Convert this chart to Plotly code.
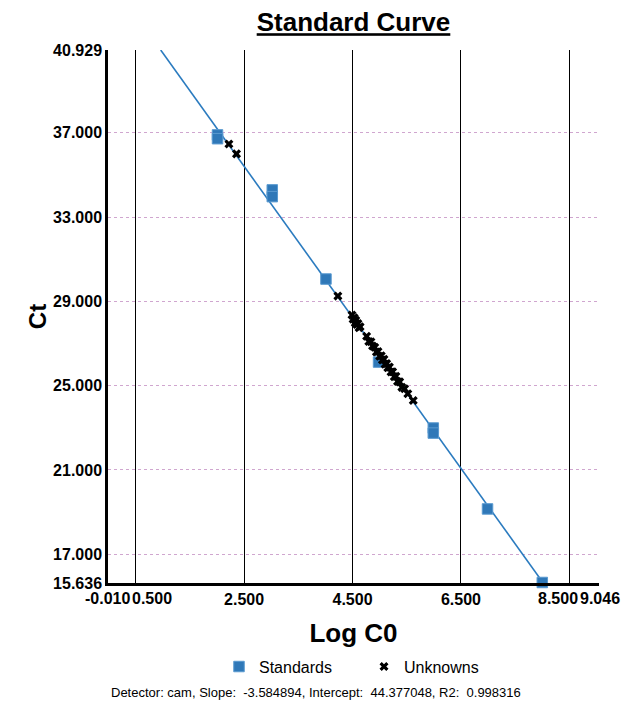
import plotly.graph_objects as go

# ---- data ----
std_logc0 = [2.01, 2.01, 3.02, 3.02, 4.01, 4.98, 5.99, 5.99, 6.99, 8.00]
std_ct = [36.90, 36.72, 34.29, 33.97, 30.06, 26.12, 22.99, 22.75, 19.15, 15.66]

unk_logc0 = [2.22, 2.36, 4.23, 4.49, 4.51, 4.53, 4.55, 4.56, 4.58, 4.60, 4.62, 4.64,
             4.76, 4.80, 4.84, 4.87, 4.91, 4.94, 4.97, 5.00, 5.03, 5.05, 5.08, 5.10,
             5.13, 5.15, 5.18, 5.21, 5.24, 5.27, 5.30, 5.33, 5.37, 5.41, 5.46, 5.52, 5.62]
unk_ct = [36.47, 36.00, 29.25, 28.35, 28.15, 28.22, 27.98, 28.10, 27.90, 27.95, 27.75, 27.80,
          27.35, 27.10, 27.08, 26.88, 26.82, 26.60, 26.62, 26.40, 26.42, 26.22, 26.25, 26.02,
          26.05, 25.85, 25.88, 25.65, 25.66, 25.42, 25.45, 25.20, 25.18, 24.92, 24.85, 24.62, 24.30]

slope = -3.584894
intercept = 44.377048
r2 = 0.998316
detector = "cam"

x_min, x_max = -0.010, 9.046
y_min, y_max = 15.636, 40.929
x_ticks = [-0.010, 0.500, 2.500, 4.500, 6.500, 8.500, 9.046]
y_ticks = [15.636, 17.000, 21.000, 25.000, 29.000, 33.000, 37.000, 40.929]

# crowded pairs of x tick labels are written as annotations at their tick values
crowded = {-0.010: ("right", 0.500, -5), 0.500: ("left", 0.500, -5),
           8.500: ("right", 9.046, -20), 9.046: ("left", 9.046, -20)}
x_ticktext = ["" if v in crowded else f"{v:.3f}" for v in x_ticks]
y_ticktext = [f"{v:.3f}" for v in y_ticks]

# fitted line clipped to the plot range
line_y = [y_max, y_min]
line_x = [(yv - intercept) / slope for yv in line_y]

FONT = "Arial, Liberation Sans, sans-serif"
W, H = 622, 700
L, T, PW, PH = 100, 42, 491, 533
TICKFONT = dict(size=16, family=FONT, color="black", weight="bold")

fig = go.Figure()
fig.add_trace(go.Scatter(x=line_x, y=line_y, mode="lines",
                         line=dict(color="#2b7bbf", width=1.6),
                         showlegend=False, hoverinfo="skip"))
fig.add_trace(go.Scatter(x=std_logc0, y=std_ct, mode="markers", name="Standards",
                         marker=dict(symbol="square", size=10.5, color="#2f78b8",
                                     line=dict(color="#5a9ad0", width=1)),
                         cliponaxis=False))
fig.add_trace(go.Scatter(x=unk_logc0, y=unk_ct, mode="markers", name="Unknowns",
                         marker=dict(symbol="x", size=8, color="black",
                                     line=dict(width=0)),
                         cliponaxis=False))

fig.update_layout(
    width=W, height=H,
    margin=dict(l=L, r=W - L - PW, t=T, b=H - T - PH, autoexpand=False),
    paper_bgcolor="white", plot_bgcolor="white",
    font=dict(family=FONT, color="black"),
    title=dict(text="<b><u>Standard Curve</u></b>", x=0.5, xref="paper", xanchor="center",
               y=1 - 5 / H, yref="container", yanchor="top",
               font=dict(size=26, family=FONT, color="black")),
    showlegend=True,
    legend=dict(orientation="h", x=(219 - 108) / PW, xref="paper", xanchor="left",
                y=-0.125, yanchor="top", font=dict(size=16, family=FONT),
                itemwidth=30, entrywidth=100, tracegroupgap=0,
                bgcolor="rgba(0,0,0,0)"),
)

fig.update_xaxes(
    range=[x_min, x_max], tickvals=x_ticks, ticktext=x_ticktext, tickangle=0,
    showgrid=True, gridcolor="black", gridwidth=1,
    showline=True, linecolor="black", linewidth=2.5, mirror=False,
    zeroline=False, ticks="", ticklabelstandoff=0,
    tickfont=TICKFONT,
    title=dict(text="<b>Log C0</b>", font=dict(size=26, family=FONT), standoff=17),
    automargin=False,
)
fig.update_yaxes(
    range=[y_min, y_max], tickvals=y_ticks, ticktext=y_ticktext,
    showgrid=True, gridcolor="#d0a6cf", gridwidth=1, griddash="dot",
    showline=True, linecolor="black", linewidth=2.5, mirror=False,
    zeroline=False, ticks="", ticklabelstandoff=0,
    tickfont=TICKFONT,
    title=dict(text="<b>Ct</b>", font=dict(size=24, family=FONT), standoff=0),
    automargin=False,
)

for v, (anchor, xpos, shift) in crowded.items():
    fig.add_annotation(text=f"{v:.3f}", x=xpos, xref="x", y=0, yref="paper",
                       xanchor=anchor, yanchor="top", xshift=shift, yshift=-6,
                       showarrow=False, borderpad=0, font=TICKFONT)

fig.add_annotation(
    text=f"Detector: {detector}, Slope:  {slope:.6f}, Intercept:  {intercept:.6f}, R2:  {r2:.6f}",
    xref="paper", yref="paper", x=(316 - 108) / PW, y=-(692 - 583) / PH,
    xanchor="center", yanchor="middle", showarrow=False,
    font=dict(size=13, family=FONT, color="black"),
)

fig.write_html("out.html")
